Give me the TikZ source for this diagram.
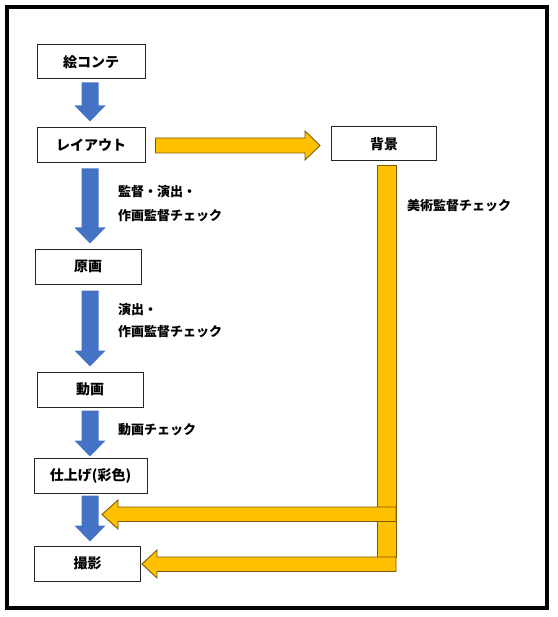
\documentclass[tikz,border=0pt]{standalone}
\usepackage{fontspec}
\setmainfont{Noto Sans CJK JP}
\usetikzlibrary{calc}
\definecolor{arrblue}{HTML}{4472C4}
\definecolor{arrorange}{HTML}{FFC000}
\definecolor{arredge}{HTML}{7A5A00}
\tikzset{
  stepbox/.style={draw=black!85, line width=1pt, fill=white, inner sep=0pt,
    font=\fontsize{14}{16}\selectfont\bfseries},
  lab/.style={anchor=west, inner sep=0pt, font=\fontsize{13}{15}\selectfont\bfseries},
  bluearr/.style={fill=arrblue},
  orarr/.style={fill=arrorange, draw=arredge, line width=0.9pt, line join=miter},
}
\newcommand\bluefat[4]{%
  \fill[bluearr] let \p1=($(#1.south)+(0,#3)$), \p2=($(#2.north)+(0,-#4)$) in
  (81.5pt,\y1) -- (98.5pt,\y1) -- (98.5pt,\y2+16pt) -- (105.5pt,\y2+16pt) --
  (90pt,\y2) -- (74.5pt,\y2+16pt) -- (81.5pt,\y2+16pt) -- cycle;}
\begin{document}
\begin{tikzpicture}[x=1pt,y=-1pt]
\useasboundingbox (0,0) rectangle (557,617);
\fill[white] (0,0) rectangle (557,617);
\draw[line width=4pt] (7,7.5) rectangle (547,607.5);

% boxes
\node[stepbox, minimum width=108, minimum height=34] (ekonte) at (91,62) {絵コンテ};
\node[stepbox, minimum width=108, minimum height=35] (layout) at (91,145.5) {レイアウト};
\node[stepbox, minimum width=105, minimum height=34] (haikei) at (384,144) {背景};
\node[stepbox, minimum width=106, minimum height=35] (genga) at (88,266.5) {原画};
\node[stepbox, minimum width=106, minimum height=35] (douga) at (90,389.5) {動画};
\node[stepbox, minimum width=113, minimum height=35] (shiage) at (90.5,475.5) {仕上げ(彩色)};
\node[stepbox, minimum width=106, minimum height=35] (satsuei) at (87.5,563.5) {撮影};

% blue arrows
\bluefat{ekonte}{layout}{3}{6}
\bluefat{layout}{genga}{5}{5}
\bluefat{genga}{douga}{6}{5}
\bluefat{douga}{shiage}{3}{1}
\bluefat{shiage}{satsuei}{2}{4}

% labels
\node[lab] (l1a) at (118,192) {監督・演出・};
\node[lab] (l1b) at (118,216) {作画監督チェック};
\node[lab] (l2a) at (118,310) {演出・};
\node[lab] (l2b) at (118,332) {作画監督チェック};
\node[lab] (l3) at (118,430) {動画チェック};
\node[lab] (l4) at (407,206) {美術監督チェック};

% orange right arrow layout -> haikei
\draw[orarr] let \p1=($(layout.east)+(10,0)$), \p2=($(haikei.west)+(-11,0)$) in
  (\x1,\y1+7.5pt) -- (\x2-15pt,\y1+7.5pt) -- (\x2-15pt,\y1+14.5pt) -- (\x2,\y1) --
  (\x2-15pt,\y1-14.5pt) -- (\x2-15pt,\y1-7.5pt) -- (\x1,\y1-7.5pt) -- cycle;

% orange vertical bar
\draw[orarr] (377,165) rectangle (396,557);
% orange left arrows
\draw[orarr] (396,507) -- (118,507) -- (118,500) -- (102,514.5) -- (118,529) -- (118,521.5) -- (396,521.5) -- cycle;
\draw[orarr] (396,557) -- (157,557) -- (157,550) -- (142,564) -- (157,578) -- (157,571.5) -- (396,571.5) -- cycle;
\end{tikzpicture}
\end{document}
